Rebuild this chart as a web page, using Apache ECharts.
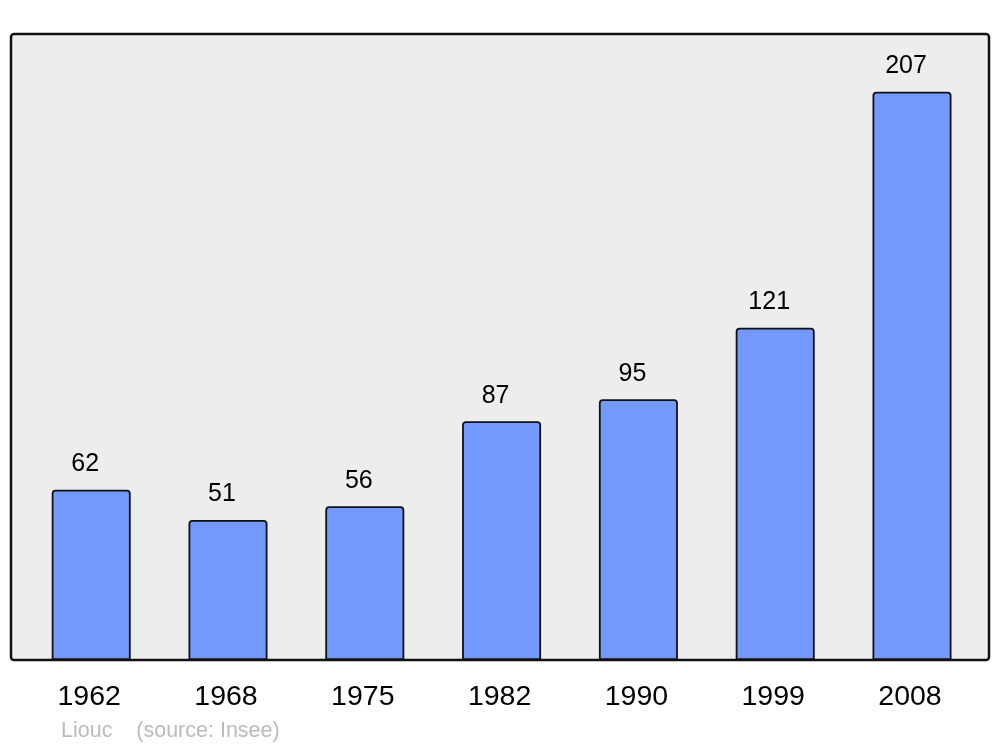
<!DOCTYPE html>
<html><head><meta charset="utf-8">
<script src="https://cdn.jsdelivr.net/npm/echarts@6/dist/echarts.min.js"></script>
<style>html,body{margin:0;padding:0;background:#fff}#c{width:1000px;height:747px}</style>
</head><body><div id="c"></div>
<script>
var years = ['1962','1968','1975','1982','1990','1999','2008'];
var population = [62, 51, 56, 87, 95, 121, 207];
var sourceText = 'Liouc    (source: Insee)';

var chart = echarts.init(document.getElementById('c'), null, {renderer:'canvas'});
chart.setOption({
  animation: false,
  backgroundColor: '#fff',
  graphic: [
    {type:'rect', z:-10, shape:{x:11, y:34, width:978, height:626, r:3},
     style:{fill:'#ededed', stroke:'#111', lineWidth:2.5}},
    {type:'text', left:61, top:720, style:{text:sourceText, fill:'#bbb', font:'21.5px "Liberation Sans", Arial, sans-serif'}}
  ],
  grid: {left:22.8, right:19.6, top:34, bottom:87},
  xAxis: {
    type:'category', data: years,
    axisLine:{show:false}, axisTick:{show:false},
    axisLabel:{color:'#000', fontSize:28.5, fontFamily:'"Liberation Sans", Arial, sans-serif', margin:23, padding:[0,4,0,0]}
  },
  yAxis: {type:'value', min:0, max:228, show:false, splitLine:{show:false}},
  series: [{
    type:'bar', data: population, barWidth:79,
    itemStyle:{color:'#7399ff', borderColor:'#111', borderWidth:1.8, borderRadius:[3,3,0,0]},
    label:{show:true, position:'top', distance:13, offset:[-6,0], color:'#000', fontSize:25, fontFamily:'"Liberation Sans", Arial, sans-serif'}
  }]
});
</script></body></html>
